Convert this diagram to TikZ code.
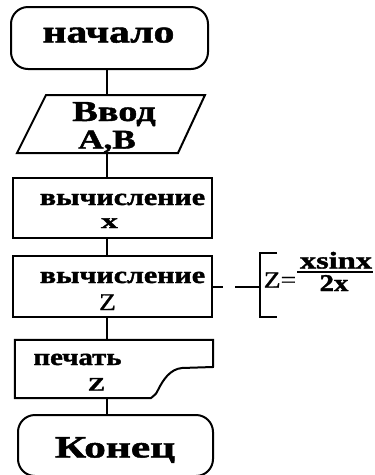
\documentclass[tikz,border=0pt]{standalone}
\usepackage{fontspec}
\setmainfont{Liberation Serif}
\newfontfamily\hb{Liberation Serif}[BoldFeatures={FakeBold=1.4}]
\newfontfamily\hr{Liberation Serif}[FakeBold=0.8]
\usepackage{graphicx}
\tikzset{
 shp/.style={draw, line width=2pt},
 term/.style={shp, rounded corners=17pt},
 boxs/.style={shp},
 frame/.style={draw=none, inner sep=0pt},
 lbl/.style={inner sep=0pt, anchor=base},
 con/.style={line width=2pt},
}
\newcommand\lb[3]{\scalebox{#1}[1]{\fontsize{#2}{#2}\selectfont\hb\bfseries #3}}
\newcommand\lr[3]{\scalebox{#1}[1]{\fontsize{#2}{#2}\selectfont\hr #3}}
\begin{document}
\begin{tikzpicture}[x=1pt,y=-1pt]
\useasboundingbox (0,0) rectangle (375,475);
% start
\node[term, minimum width=197pt, minimum height=62pt] (start) at (109.5,38) {};
\node[lbl] (tstart) at (108.5,42.5) {\lb{1.3}{32}{начало}};
% input
\coordinate (inTL) at (46,95);
\coordinate (inTR) at (205,95);
\coordinate (inBR) at (178,153);
\coordinate (inBL) at (17,153);
\draw[shp] (inTL) -- (inTR) -- (inBR) -- (inBL) -- cycle;
\node[lbl] (tin1) at (114,121) {\lb{1.32}{29}{Ввод}};
\node[lbl] (tin2) at (107,148.5) {\lb{1.3}{27}{A,B}};
% box 1
\node[boxs, minimum width=199pt, minimum height=60pt] (b1) at (112.5,208) {};
\node[lbl] (tb1) at (122.5,205) {\lb{1.25}{24}{вычисление}};
\node[lbl] (tb1x) at (109.5,228) {\lb{1.6}{21}{x}};
% box 2
\node[boxs, minimum width=199pt, minimum height=61pt] (b2) at (112.5,286.5) {};
\node[lbl] (tb2) at (122.5,283) {\lb{1.25}{24}{вычисление}};
\node[lbl] (tb2z) at (107.5,310) {\lr{1.15}{24}{Z}};
% document
\node[frame, minimum width=198pt, minimum height=58pt] (doc) at (114,369) {};
\draw[shp] (doc.south west) -- (doc.north west) -- (doc.north east) -- (213,367) -- (182,368)
  .. controls (170,369) and (163,380) .. (158,390) .. controls (156,394) .. (151,398) -- cycle;
\node[lbl] (td1) at (77.5,365) {\lb{1.2}{24}{печать}};
\node[lbl] (td2) at (96.5,390.5) {\lb{1.35}{19}{Z}};
% end
\node[term, minimum width=195pt, minimum height=61pt] (end) at (115.5,445.5) {};
\node[lbl] (tend) at (115,457.5) {\lb{1.4}{31}{Конец}};
% connectors
\coordinate (axis) at (107,0);
\draw[con] (start.south -| axis) -- (inTL -| axis);
\draw[con] (inBL -| axis) -- (b1.north -| axis);
\draw[con] (b1.south -| axis) -- (b2.north -| axis);
\draw[con] (b2.south -| axis) -- (doc.north -| axis);
\draw[con] (doc.south -| axis) -- (end.north -| axis);
% annotation
\coordinate (g1) at (223,286.5);
\draw[con] (b2.east) -- (g1);
\coordinate (g2) at (235,286.5);
\coordinate (brX) at (260,0);
\coordinate (brT) at (277,253);
\coordinate (brB) at (277,317);
\draw[con] (g2) -- (g2 -| brX);
\draw[con] (brT) -- (brT -| brX) -- (brB -| brX) -- (brB);
\node[lbl] (zeq) at (280,287.5) {\lr{1.2}{23}{Z=}};
\node[lbl] (num) at (336,268.5) {\lb{1.35}{24}{xsinx}};
\node[lbl] (den) at (334,291) {\lb{1.2}{24}{2x}};
\coordinate (fbL) at (297,272);
\coordinate (fbR) at (373,272);
\draw[line width=1.8pt] (fbL) -- (fbR);
\end{tikzpicture}
\end{document}
